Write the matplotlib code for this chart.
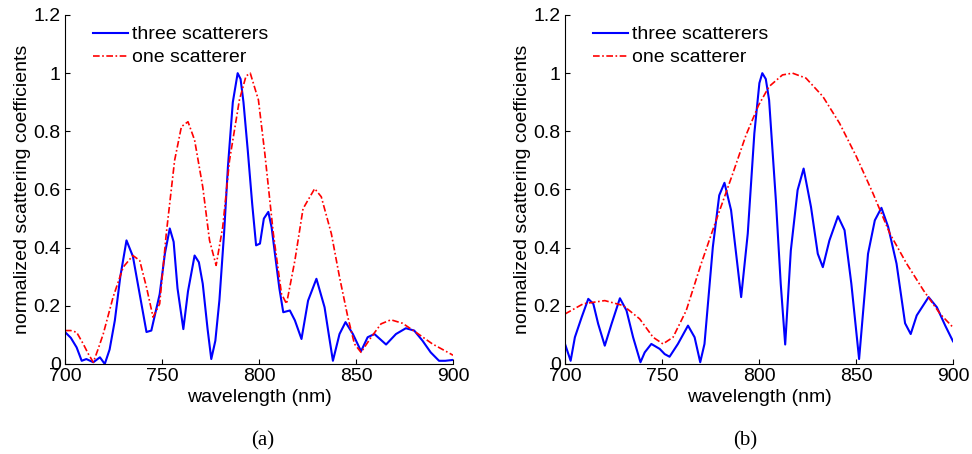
import matplotlib
matplotlib.use('Agg')
import matplotlib.pyplot as plt
from matplotlib.ticker import FuncFormatter

plt.rcParams['font.family'] = ['Liberation Sans', 'DejaVu Sans']

# (a) three scatterers
a_three_x = [700, 703, 706, 708.6, 711, 714.6, 718, 720.5, 723, 725.7, 728.5, 731.7, 735, 738.5,
             742, 744.5, 748.8, 751.5, 754, 756, 758, 761, 763.4, 766.8, 769, 771, 773.5, 775.4,
             777.5, 779.6, 782, 784, 786.5, 789, 790.5, 792, 794.2, 796.5, 798.5, 800.5, 802.5,
             804.8, 806.5, 808.2, 810.5, 812.5, 815.9, 818.5, 821.9, 825.3, 829.6, 833.8, 836,
             838.1, 841.5, 844.6, 848.4, 852.6, 856, 859.5, 865.5, 870.6, 875.7, 880, 884.3,
             888.5, 892.8, 896, 900]
a_three_y = [0.11, 0.09, 0.057, 0.011, 0.017, 0.006, 0.023, 0.0, 0.05, 0.15, 0.3, 0.425, 0.37,
             0.24, 0.11, 0.115, 0.24, 0.38, 0.466, 0.42, 0.26, 0.12, 0.25, 0.373, 0.35, 0.276,
             0.12, 0.017, 0.08, 0.22, 0.45, 0.68, 0.9, 1.0, 0.98, 0.9, 0.735, 0.55, 0.408, 0.414,
             0.5, 0.523, 0.47, 0.38, 0.26, 0.178, 0.184, 0.15, 0.086, 0.218, 0.293, 0.195, 0.1,
             0.011, 0.103, 0.144, 0.103, 0.044, 0.092, 0.103, 0.067, 0.103, 0.123, 0.115, 0.08,
             0.04, 0.011, 0.011, 0.014]

# (a) one scatterer
a_one_x = [700, 703, 706, 709.4, 712, 714.6, 717, 719.7, 724.8, 730, 735, 738.5, 742, 745.4,
           748.8, 752.2, 756.5, 760, 763.4, 766.8, 771, 774.5, 777.9, 781.3, 784.8, 789.9,
           793.3, 795.5, 799.7, 803, 807.4, 811.6, 814.2, 818.5, 822.7, 828.7, 832.1, 837.3,
           841.5, 845.8, 849.2, 852.6, 857.8, 862.9, 868, 874, 880.9, 889.4, 899, 900]
a_one_y = [0.115, 0.115, 0.109, 0.069, 0.035, 0.006, 0.05, 0.103, 0.23, 0.333, 0.373, 0.356,
           0.264, 0.161, 0.207, 0.448, 0.70, 0.816, 0.833, 0.77, 0.609, 0.425, 0.339, 0.471,
           0.70, 0.908, 0.99, 1.0, 0.908, 0.724, 0.448, 0.241, 0.207, 0.356, 0.534, 0.603,
           0.575, 0.448, 0.299, 0.161, 0.069, 0.04, 0.092, 0.138, 0.152, 0.14, 0.109, 0.069,
           0.034, 0.03]

# (b) three scatterers
b_three_x = [700, 702.9, 705.1, 708.6, 712, 714.6, 717.1, 720.5, 724, 728.3, 731.7, 735.1,
             738.9, 741.1, 744.5, 748.8, 751.4, 753.9, 758.2, 763.4, 766.8, 769.7, 771.9,
             776.2, 779.5, 782.2, 785.6, 790.8, 794.2, 797.6, 800.2, 801.7, 803.5, 805.2,
             808.7, 811.2, 813.5, 816.4, 819.9, 823, 826.8, 830.3, 832.9, 836.3, 840.7, 844.1,
             847.6, 851.6, 856.2, 859.7, 863.1, 866.6, 870.9, 875.3, 878.2, 881.3, 887.4,
             891.7, 896, 900]
b_three_y = [0.069, 0.011, 0.092, 0.161, 0.224, 0.207, 0.138, 0.063, 0.138, 0.226, 0.184,
             0.092, 0.006, 0.04, 0.069, 0.052, 0.034, 0.025, 0.069, 0.132, 0.092, 0.006, 0.069,
             0.402, 0.58, 0.623, 0.529, 0.23, 0.448, 0.793, 0.966, 1.0, 0.98, 0.908, 0.563,
             0.276, 0.067, 0.39, 0.598, 0.672, 0.54, 0.379, 0.333, 0.425, 0.508, 0.46, 0.276,
             0.017, 0.379, 0.494, 0.537, 0.471, 0.345, 0.14, 0.103, 0.167, 0.23, 0.195,
             0.132, 0.078]

# (b) one scatterer
b_one_x = [700, 709.4, 720.5, 730, 738.5, 745.4, 750.5, 755.7, 762.5, 770.2, 777.9, 786.5,
           793.3, 799.8, 805.2, 812.1, 817.3, 824.2, 832.9, 841.5, 850.2, 858.8, 867.5,
           876.1, 884.8, 893.4, 900]
b_one_y = [0.172, 0.207, 0.218, 0.201, 0.155, 0.092, 0.069, 0.092, 0.184, 0.345, 0.494,
           0.655, 0.787, 0.89, 0.954, 0.994, 1.0, 0.983, 0.92, 0.828, 0.713, 0.586, 0.448,
           0.345, 0.253, 0.172, 0.126]

# caption, data, axes left edge (px), caption x (px)
panels = [
    ('(a)', a_three_x, a_three_y, a_one_x, a_one_y, 65, 263),
    ('(b)', b_three_x, b_three_y, b_one_x, b_one_y, 565, 745),
]

W, H = 972, 454
FS = 14
fig = plt.figure(figsize=(W / 100, H / 100), dpi=100)

for cap, tx, ty, ox, oy, left_px, cap_px in panels:
    ax = fig.add_axes([left_px / W, (H - 364) / H, 388 / W, 349 / H])
    ax.plot(tx, ty, color='#0000ff', lw=1.5, label='three scatterers')
    ax.plot(ox, oy, color='#ff0000', lw=1.2, linestyle=(0, (4, 1.5, 1, 1.5)),
            label='one scatterer')
    ax.set_xlim(700, 900)
    ax.set_ylim(0, 1.2)
    ax.set_xticks([700, 750, 800, 850, 900])
    ax.set_yticks([0, 0.2, 0.4, 0.6, 0.8, 1.0, 1.2])
    ax.yaxis.set_major_formatter(FuncFormatter(lambda v, p: '%g' % round(v, 2)))
    ax.tick_params(direction='in', length=3.5, labelsize=FS, pad=3)
    for s in ['top', 'right']:
        ax.spines[s].set_visible(False)
    ax.set_xlabel('wavelength (nm)', fontsize=FS, labelpad=3)
    ax.set_ylabel('normalized scattering coefficients', fontsize=FS, labelpad=2)
    ax.legend(loc='upper left', bbox_to_anchor=(0.045, 1.0), frameon=False, fontsize=FS,
              handlelength=1.8, handletextpad=0.2, labelspacing=0.28, borderaxespad=0.15)
    fig.text(cap_px / W, 1 - 441 / H, cap, ha='center', va='center',
             fontsize=FS + 1, family=['Liberation Serif', 'DejaVu Serif'])

fig.savefig('out.png', dpi=100)
